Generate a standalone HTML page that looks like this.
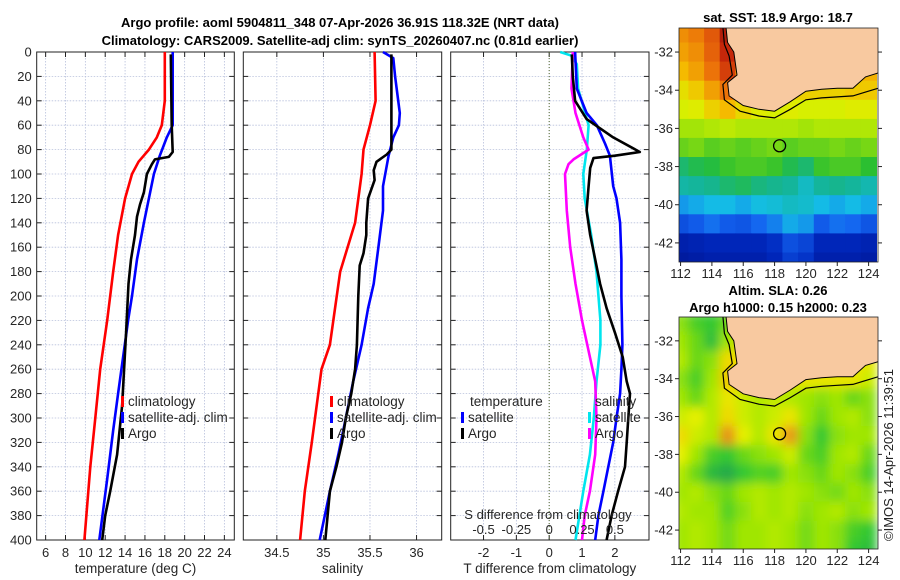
<!DOCTYPE html>
<html><head><meta charset="utf-8">
<style>
html,body{margin:0;padding:0;background:#fff;}
svg{display:block;font-family:"Liberation Sans","DejaVu Sans",sans-serif;}
</style></head>
<body>
<svg id="fig" width="900" height="580" viewBox="0 0 900 580">
<defs>
<filter id="blur" x="-5%" y="-5%" width="110%" height="110%"><feGaussianBlur stdDeviation="5"/></filter>
<clipPath id="clipTop"><rect x="679" y="28" width="199" height="234"/></clipPath>
<clipPath id="clipBot"><rect x="679" y="317" width="199" height="232"/></clipPath>
</defs>
<text x="340" y="27" text-anchor="middle" font-size="13" font-weight="bold">Argo profile: aoml 5904811_348 07-Apr-2026 36.91S 118.32E (NRT data)</text>
<text x="340" y="45" text-anchor="middle" font-size="13" font-weight="bold">Climatology: CARS2009. Satellite-adj clim: synTS_20260407.nc (0.81d earlier)</text>
<text x="778" y="22" text-anchor="middle" font-size="13" font-weight="bold">sat. SST: 18.9 Argo: 18.7</text>
<text x="778" y="295" text-anchor="middle" font-size="13" font-weight="bold">Altim. SLA: 0.26</text>
<text x="778" y="312" text-anchor="middle" font-size="13" font-weight="bold">Argo h1000: 0.15 h2000: 0.23</text>
<text transform="translate(893,541) rotate(-90)" font-size="13" fill="#222">©IMOS 14-Apr-2026 11:39:51</text>
<g id="plots"></g>
</svg>
<script>
// ---------- profile data ----------
const tDepth   = [0,40,60,70,80,90,100,120,150,180,220,260,300,340,400];
const tClim    = [18.0,18.0,17.7,17.2,16.4,15.35,14.7,14.0,13.3,12.8,12.2,11.5,11.0,10.5,9.9];
const tSatDepth= [0,60,70,85,100,120,140,170,200,220,250,280,310,350,400];
const tSat     = [18.8,18.8,18.2,17.5,16.9,16.4,15.9,15.2,14.7,14.3,13.8,13.3,12.8,12.2,11.4];
const tArgoDepth=[2,60,82,86,88,92,100,115,125,135,150,170,190,230,260,290,330,360,380,400];
const tArgo    = [18.6,18.7,18.8,18.4,17.0,16.7,16.2,15.9,15.5,15.2,15.0,14.6,14.35,14.1,13.9,13.7,13.2,12.5,12.0,11.7];

const sClimDepth=[0,40,60,80,100,140,180,240,260,320,360,400];
const sClim    = [35.55,35.56,35.5,35.43,35.41,35.34,35.18,35.07,34.98,34.875,34.8,34.75];
const sSatDepth= [0,5,20,50,60,70,85,110,130,160,190,210,240,270,300,330,360,400];
const sSat     = [35.64,35.75,35.77,35.82,35.81,35.75,35.7,35.64,35.64,35.59,35.54,35.48,35.41,35.32,35.24,35.16,35.07,34.96];
const sArgoDepth=[2,60,80,84,90,97,105,120,140,150,165,175,200,240,260,280,300,320,340,360,400];
const sArgo    = [35.73,35.73,35.73,35.68,35.57,35.54,35.55,35.48,35.46,35.46,35.43,35.39,35.375,35.36,35.34,35.3,35.24,35.2,35.14,35.07,35.02];

const dTSatDepth=[0,30,50,60,75,85,110,120,140,170,200,240,260,280,300,320,340,360,380,400];
const dTSat    = [0.79,0.84,1.14,1.45,1.7,1.85,1.95,2.05,2.16,2.2,2.2,2.23,2.2,2.16,2.05,1.95,1.8,1.65,1.5,1.4];
const dTArgoDepth=[2,20,40,55,70,82,85,87,95,110,130,150,170,190,210,230,250,270,280,300,320,340,360,380,400];
const dTArgo   = [0.69,0.72,0.79,1.14,1.95,2.76,2.0,1.35,1.25,1.2,1.14,1.25,1.4,1.55,1.75,2.0,2.24,2.36,2.46,2.41,2.36,2.31,2.1,1.9,1.75];
const dSSatDepth=[0,3,10,30,60,80,100,120,150,180,220,240,270,300,330,360,400];
const dSSat    = [0.084,0.17,0.21,0.22,0.30,0.286,0.26,0.27,0.32,0.36,0.39,0.39,0.36,0.34,0.31,0.26,0.20];
const dSArgoDepth=[0,30,50,70,80,88,92,100,130,160,190,220,250,270,300,330,360,380,400];
const dSArgo   = [0.18,0.17,0.2,0.26,0.30,0.185,0.147,0.12,0.134,0.16,0.2,0.25,0.31,0.35,0.36,0.35,0.31,0.27,0.25];

const depthTicks = [0,20,40,60,80,100,120,140,160,180,200,220,240,260,280,300,320,340,360,380,400];
const tTicks = [6,8,10,12,14,16,18,20,22,24];
const sTicks = [34.5,35,35.5,36];
const dTTicks = [-2,-1,0,1,2];
const dSTickLabels = ["-0.5","-0.25","0","0.25","0.5"];
const dSTicks = [-0.5,-0.25,0,0.25,0.5];

// ---------- map data (rows lat -31..-43, cols lon 112..124) ----------
const sstGrid = [
[20.2,20.4,20.8,21.6,20,20,20,20,20,20,20,20,20],
[20.0,20.2,20.7,21.4,20,20,20,20,20,20,20,20,20],
[19.7,20.0,20.5,21.1,20,20,20,20,20,20,20,20,19.8],
[19.2,19.5,20.0,20.5,19.9,19.6,19.5,19.4,19.4,19.4,19.4,19.5,19.5],
[18.9,19.0,19.4,19.7,19.3,19.0,18.9,19.0,18.9,18.9,18.9,19.0,19.0],
[18.5,18.5,18.6,18.7,18.6,18.6,18.6,18.6,18.5,18.6,18.6,18.6,18.6],
[18.1,18.2,18.0,18.1,18.0,18.1,18.2,18.0,18.1,18.1,18.2,18.1,18.2],
[17.3,17.5,17.6,17.8,17.9,17.9,17.8,17.5,17.3,17.8,17.9,17.9,17.7],
[16.9,17.0,17.1,17.3,17.4,17.2,17.1,17.0,16.6,17.0,17.1,17.0,16.8],
[15.8,16.0,16.2,16.2,16.0,16.3,16.4,16.6,16.5,16.2,16.0,16.2,16.0],
[14.8,15.0,15.3,15.0,14.9,15.2,15.5,16.0,15.8,15.0,15.3,15.2,14.9],
[13.8,13.9,14.0,14.0,14.0,14.0,14.2,14.8,14.6,14.0,14.0,14.0,13.9],
[13.6,13.7,13.8,13.8,13.8,13.8,14.0,14.5,14.3,13.8,13.8,13.8,13.7]
];
const slaGrid = [
[0.08,0.02,0.00,0.06,0.2,0.2,0.2,0.2,0.2,0.2,0.2,0.2,0.2],
[0.10,0.05,-0.02,0.10,0.22,0.2,0.2,0.2,0.2,0.2,0.2,0.2,0.2],
[0.12,0.05,0.08,0.22,0.22,0.2,0.2,0.2,0.2,0.2,0.2,0.2,0.2],
[0.08,0.02,0.10,0.25,0.25,0.22,0.22,0.2,0.2,0.2,0.2,0.2,0.15],
[0.10,0.05,0.12,0.20,0.15,0.12,0.14,0.12,0.10,0.08,0.10,0.05,0.08],
[0.15,0.18,0.12,0.22,0.15,0.12,0.15,0.20,0.10,0.05,0.10,0.12,0.08],
[0.22,0.15,0.12,0.33,0.18,0.12,0.20,0.32,0.08,0.00,0.08,0.10,0.10],
[0.18,0.10,0.02,0.00,0.05,0.08,0.10,0.15,0.05,0.02,0.10,0.12,0.05],
[0.12,0.05,-0.03,-0.06,0.00,0.03,0.02,0.10,0.08,0.05,0.10,0.08,0.02],
[0.10,0.12,0.08,0.05,0.10,0.12,0.10,0.12,0.10,0.08,0.06,0.10,0.08],
[0.12,0.10,0.10,0.03,0.08,0.12,0.10,0.12,0.08,0.10,0.12,0.08,0.10],
[0.10,0.12,0.10,0.06,0.10,0.10,0.12,0.10,0.06,0.10,0.08,0.02,0.00],
[0.10,0.12,0.10,0.06,0.10,0.10,0.12,0.10,0.06,0.10,0.08,0.0,-0.02]
];
const coastLon = [114.9,115.0,115.4,115.6,115.0,115.1,116.0,117.0,118.0,119.0,120.0,121.0,122.0,123.0,123.8,124.6];
const coastLat = [-30.7,-31.5,-32.0,-33.2,-33.6,-34.3,-34.8,-35.0,-35.1,-34.6,-34.05,-33.95,-33.9,-33.9,-33.3,-33.1];
const isoLon = [114.7,114.8,115.1,115.3,114.7,114.8,115.8,117.0,118.0,119.0,120.0,121.0,122.0,123.0,123.8,124.6];
const isoLat = [-30.7,-31.6,-32.2,-33.2,-33.7,-34.5,-35.1,-35.35,-35.45,-35.0,-34.5,-34.4,-34.35,-34.3,-34.1,-33.9];
const floatLon = 118.32, floatLat = -36.91;
const lonTicks = [112,114,116,118,120,122,124];
const latTicks = [-32,-34,-36,-38,-40,-42];

// ---------- drawing ----------
const NS='http://www.w3.org/2000/svg';
const root=document.getElementById('plots');
function mk(tag,attrs,parent){const e=document.createElementNS(NS,tag);for(const k in attrs)e.setAttribute(k,attrs[k]);(parent||root).appendChild(e);return e;}
const Y0=52,Y1=540;
const yD=d=>Y0+(d/400)*(Y1-Y0);
function lin(d0,d1,r0,r1){return v=>r0+(v-d0)/(d1-d0)*(r1-r0);}

function panel(name,x0,x1,xs,ticks,labels,xlabel,showY){
  const g=mk('g',{});
  
  
  ticks.forEach(t=>{mk('line',{x1:xs(t),x2:xs(t),y1:Y0,y2:Y1,stroke:'#b8c0dc','stroke-width':0.8,'stroke-dasharray':'1.5,1.5'},g);});
  depthTicks.forEach(d=>{mk('line',{x1:x0,x2:x1,y1:yD(d),y2:yD(d),stroke:'#b8c0dc','stroke-width':0.8,'stroke-dasharray':'1.5,1.5'},g);
    mk('line',{x1:x0,x2:x0+5,y1:yD(d),y2:yD(d),stroke:'#222'},g);mk('line',{x1:x1-5,x2:x1,y1:yD(d),y2:yD(d),stroke:'#222'},g);
    if(showY){const t=mk('text',{x:x0-5,y:yD(d)+4.5,'text-anchor':'end','font-size':13,fill:'#262626'},g);t.textContent=d;}});
  ticks.forEach((t,i)=>{mk('line',{x1:xs(t),x2:xs(t),y1:Y1,y2:Y1-5,stroke:'#222'},g);mk('line',{x1:xs(t),x2:xs(t),y1:Y0,y2:Y0+5,stroke:'#222'},g);
    const tx=mk('text',{x:xs(t),y:Y1+17,'text-anchor':'middle','font-size':13,fill:'#262626'},g);tx.textContent=labels[i];});
  mk('rect',{x:x0,y:Y0,width:x1-x0,height:Y1-Y0,fill:'none',stroke:'#222','stroke-width':1},g);
  const xl=mk('text',{x:(x0+x1)/2,y:Y1+33,'text-anchor':'middle','font-size':13.5,fill:'#262626'},g);xl.textContent=xlabel;
  return g;
}
function line(g,xs,vals,depths,color,name){
  const pts=vals.map((v,i)=>xs(v).toFixed(1)+','+yD(depths[i]).toFixed(1)).join(' ');
  const p=mk('polyline',{points:pts,fill:'none',stroke:color,'stroke-width':2.6,'stroke-linejoin':'round'},g);
  
  
}
function legend(g,x,y,items){
  items.forEach((it,i)=>{mk('rect',{x:x,y:y+i*16-9,width:3,height:11,fill:it[1]},g);
    const t=mk('text',{x:x+7,y:y+i*16+1,'font-size':13.5,fill:'#262626'},g);t.textContent=it[0];});
}

// panel 1 temperature
const xT=lin(5.1,25,36.7,234.3);
const g1=panel('temperature-panel',36.7,234.3,xT,tTicks,tTicks.map(String),'temperature (deg C)',true);
line(g1,xT,tClim,tDepth,'#ff0000','temp-climatology-line');
line(g1,xT,tSat,tSatDepth,'#0000ff','temp-satellite-line');
line(g1,xT,tArgo,tArgoDepth,'#000000','temp-argo-line');
legend(g1,121,405,[['climatology','#ff0000'],['satellite-adj. clim','#0000ff'],['Argo','#000']]);

// panel 2 salinity
const xS=lin(34.14,36.27,243.3,441.7);
const g2=panel('salinity-panel',243.3,441.7,xS,sTicks,sTicks.map(String),'salinity',false);
line(g2,xS,sClim,sClimDepth,'#ff0000','sal-climatology-line');
line(g2,xS,sSat,sSatDepth,'#0000ff','sal-satellite-line');
line(g2,xS,sArgo,sArgoDepth,'#000000','sal-argo-line');
legend(g2,330,405,[['climatology','#ff0000'],['satellite-adj. clim','#0000ff'],['Argo','#000']]);

// panel 3 differences
const xD=lin(-3.0,3.04,450.7,649);
const xDS=v=>xD(v*4);
const g3=panel('difference-panel',450.7,649,xD,dTTicks,dTTicks.map(String),'T difference from climatology',false);
mk('line',{x1:xD(0),x2:xD(0),y1:Y0,y2:Y1,stroke:'#556b2f','stroke-width':1,'stroke-dasharray':'1,2'},g3);
line(g3,xDS,dSSat,dSSatDepth,'#00e5ee','sal-diff-satellite-line');
line(g3,xDS,dSArgo,dSArgoDepth,'#ff00ff','sal-diff-argo-line');
line(g3,xD,dTSat,dTSatDepth,'#0000ff','temp-diff-satellite-line');
line(g3,xD,dTArgo,dTArgoDepth,'#000000','temp-diff-argo-line');
let tt=mk('text',{x:470,y:406,'font-size':13.5,fill:'#262626'},g3);tt.textContent='temperature';
legend(g3,461,421,[['satellite','#0000ff'],['Argo','#000']]);
tt=mk('text',{x:595,y:406,'font-size':13.5,fill:'#262626'},g3);tt.textContent='salinity';
legend(g3,588,421,[['satellite','#00e5ee'],['Argo','#ff00ff']]);
tt=mk('text',{x:548,y:519,'text-anchor':'middle','font-size':13,fill:'#262626'},g3);tt.textContent='S difference from climatology';
dSTicks.forEach((s,i)=>{const t=mk('text',{x:xDS(s),y:534,'text-anchor':'middle','font-size':13,fill:'#262626'},g3);t.textContent=dSTickLabels[i];});

// maps
const MX0=679,MX1=878,LON0=111.9,LON1=124.6,LAT0=-30.74,LAT1=-43;
function jet(v){const st=[[0,[0,10,120]],[0.12,[0,40,190]],[0.24,[20,100,240]],[0.36,[20,190,230]],[0.45,[20,180,150]],[0.52,[40,190,50]],[0.6,[150,225,10]],[0.66,[220,240,0]],[0.74,[245,190,0]],[0.84,[235,110,10]],[0.93,[200,40,10]],[1,[140,10,10]]];
  v=Math.max(0,Math.min(1,v));for(let i=1;i<st.length;i++){if(v<=st[i][0]){const a=st[i-1],b=st[i],f=(v-a[0])/(b[0]-a[0]);return 'rgb('+a[1].map((c,k)=>Math.round(c+(b[1][k]-c)*f)).join(',')+')';}}return 'rgb(140,10,10)';}
function slaCol(v){const st=[[-0.1,[30,150,90]],[0,[50,200,50]],[0.1,[160,230,0]],[0.18,[230,240,0]],[0.26,[245,195,0]],[0.36,[225,125,30]]];
  if(v<=st[0][0])return 'rgb(30,150,90)';for(let i=1;i<st.length;i++){if(v<=st[i][0]){const a=st[i-1],b=st[i],f=(v-a[0])/(b[0]-a[0]);return 'rgb('+a[1].map((c,k)=>Math.round(c+(b[1][k]-c)*f)).join(',')+')';}}return 'rgb(225,125,30)';}
function map(name,top,bot,clip,grid,colfn,smooth){
  const g=mk('g',{});
  
  
  const xs=lin(LON0,LON1,MX0,MX1), ys=lin(LAT0,LAT1,top,bot);
  const inner=mk('g',{'clip-path':'url(#'+clip+')'},g);
  const cells=mk('g',smooth?{filter:'url(#blur)'}:{},inner);
  grid.forEach((row,r)=>row.forEach((v,c)=>{
    const x=xs(111.5+c),y=ys(-30.5-r);
    const cell=mk('rect',{x:x.toFixed(1),y:y.toFixed(1),width:(xs(112.5+c)-x+0.5).toFixed(1),height:(ys(-31.5-r)-y+0.5).toFixed(1),fill:colfn(v)},cells);
    
    
  }));
  const land=coastLon.map((l,i)=>xs(l).toFixed(1)+','+ys(coastLat[i]).toFixed(1)).join(' ')+' '+xs(125).toFixed(1)+','+ys(-33.1).toFixed(1)+' '+xs(125)+','+ys(-30)+' '+xs(114.9)+','+ys(-30);
  const lp=mk('polygon',{points:land,fill:'#f8c9a0',stroke:'#000','stroke-width':1},inner);
  
  
  mk('polyline',{points:isoLon.map((l,i)=>xs(l).toFixed(1)+','+ys(isoLat[i]).toFixed(1)).join(' '),fill:'none',stroke:'#000','stroke-width':1.2},inner);
  const fc=mk('circle',{cx:xs(floatLon),cy:ys(floatLat),r:6,fill:'none',stroke:'#000','stroke-width':1.3},g);
  
  
  mk('rect',{x:MX0,y:top,width:MX1-MX0,height:bot-top,fill:'none',stroke:'#222','stroke-width':0.8},g);
  lonTicks.forEach(l=>{mk('line',{x1:xs(l),x2:xs(l),y1:bot,y2:bot+4,stroke:'#222'},g);const t=mk('text',{x:xs(l),y:bot+16,'text-anchor':'middle','font-size':13,fill:'#262626'},g);t.textContent=l;});
  latTicks.forEach(l=>{mk('line',{x1:MX0-4,x2:MX0,y1:ys(l),y2:ys(l),stroke:'#222'},g);mk('line',{x1:MX1,x2:MX1+4,y1:ys(l),y2:ys(l),stroke:'#222'},g);const t=mk('text',{x:MX0-6,y:ys(l)+4.5,'text-anchor':'end','font-size':13,fill:'#262626'},g);t.textContent=l;});
}
map('sst-map',28,262,'clipTop',sstGrid,v=>jet((v-13)/(22-13)),false);
map('sla-map',317,549,'clipBot',slaGrid,slaCol,true);
</script>
</body></html>
